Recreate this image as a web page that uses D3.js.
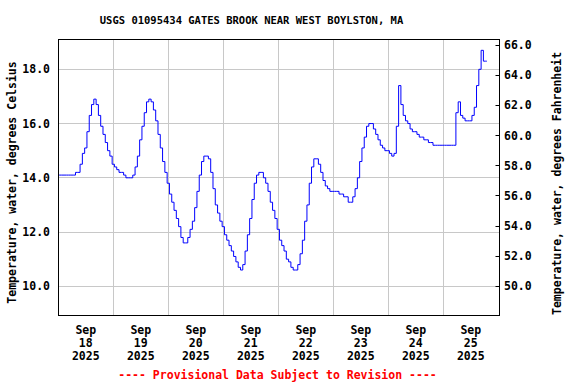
<!DOCTYPE html>
<html>
<head>
<meta charset="utf-8">
<script src="https://cdn.jsdelivr.net/npm/d3@7"></script>
<style>
html,body{margin:0;padding:0;background:#fff;}
svg text{font-family:"DejaVu Sans Mono","Liberation Mono",monospace;font-weight:bold;}
</style>
</head>
<body>
<svg id="chart" width="576" height="384"></svg>
<script>
// ---- data ----
const title = "USGS 01095434 GATES BROOK NEAR WEST BOYLSTON, MA";
const leftLabel = "Temperature, water, degrees Celsius";
const rightLabel = "Temperature, water, degrees Fahrenheit";
const footer = "---- Provisional Data Subject to Revision ----";
const startDate = "2025-09-18T00:00:00";
const endDate = "2025-09-26T00:00:00";
const dayLabels = ["18","19","20","21","22","23","24","25"];
const celsiusTicks = [10,12,14,16,18];
const fahrenheitTicks = [50,52,54,56,58,60,62,64,66];
// hourly water temperature (deg C) starting 2025-09-18 00:00
const tempC = [
 14.1,14.1,14.1,14.1,14.1,14.1,14.1,14.1,14.2,14.2,14.5,14.9,15.1,15.7,16.3,16.7,16.9,16.7,16.3,15.9,15.6,15.3,15.0,14.8,
 14.5,14.4,14.3,14.2,14.2,14.1,14.0,14.0,14.0,14.1,14.4,14.8,15.4,15.9,16.4,16.8,16.9,16.8,16.5,16.1,15.6,15.1,14.6,14.2,
 13.8,13.4,13.1,12.8,12.5,12.2,11.8,11.6,11.6,11.8,12.1,12.4,12.9,13.5,14.1,14.6,14.8,14.8,14.7,14.2,13.6,13.0,12.7,12.4,
 12.2,11.9,11.7,11.5,11.3,11.1,10.9,10.7,10.6,10.8,11.3,11.9,12.5,13.2,13.8,14.1,14.2,14.2,14.0,13.8,13.5,13.1,12.8,12.5,
 12.1,11.7,11.5,11.3,11.0,10.9,10.7,10.6,10.6,10.8,11.2,11.7,12.4,13.0,13.8,14.4,14.7,14.7,14.5,14.2,13.9,13.7,13.6,13.5,
 13.5,13.5,13.5,13.4,13.4,13.3,13.3,13.1,13.1,13.3,13.6,14.0,14.6,15.1,15.5,15.9,16.0,16.0,15.8,15.6,15.4,15.2,15.1,15.0,
 15.0,14.9,14.8,14.9,15.9,17.4,16.7,16.3,16.1,16.0,15.8,15.7,15.7,15.6,15.5,15.5,15.4,15.4,15.3,15.3,15.2,15.2,15.2,15.2,
 15.2,15.2,15.2,15.2,15.2,15.2,16.4,16.8,16.3,16.2,16.1,16.1,16.1,16.3,16.6,17.4,18.0,18.7,18.3,18.3
];

// ---- layout ----
const svg = d3.select("#chart");
const L = 58.5, R = 499.5, T = 39.5, B = 315.5;
const t0 = new Date(startDate), t1 = new Date(endDate);
const x = d3.scaleTime().domain([t0, t1]).range([58.3, 498.3]);
const y = d3.scaleLinear().domain([10, 18]).range([286.3, 69.3]);
const crisp = v => Math.floor(v) + 0.5;
const data = tempC.map((v, i) => ({t: d3.timeHour.offset(t0, i), v}));
const days = d3.timeDay.range(t0, t1);

// gridlines
const grid = svg.append("g").attr("stroke", "#c8c8c8").attr("stroke-width", 1);
days.slice(1).forEach(d => {
  const xx = crisp(x(d));
  grid.append("line").attr("x1", xx).attr("x2", xx).attr("y1", T).attr("y2", B);
});
celsiusTicks.forEach(c => {
  const yy = crisp(y(c));
  grid.append("line").attr("x1", L).attr("x2", R).attr("y1", yy).attr("y2", yy);
});

// data line
svg.append("path").datum(data)
  .attr("fill", "none").attr("stroke", "#0000ff").attr("stroke-width", 1)
  .attr("d", d3.line().curve(d3.curveStep).x(d => x(d.t)).y(d => y(d.v)));

// frame
svg.append("rect").attr("x", L).attr("y", T).attr("width", R - L).attr("height", B - T)
  .attr("fill", "none").attr("stroke", "#000").attr("stroke-width", 1);

// left axis labels
const fs = "11.5px";
celsiusTicks.forEach(c => {
  svg.append("text").attr("x", 50).attr("y", y(c) + 4).attr("text-anchor", "end")
    .attr("font-size", fs).text(c.toFixed(1));
});

// right axis (Fahrenheit) ticks and labels
const fToY = f => y((f - 32) * 5 / 9);
fahrenheitTicks.forEach(f => {
  const yy = crisp(fToY(f));
  svg.append("line").attr("x1", R - 4).attr("x2", R).attr("y1", yy).attr("y2", yy)
    .attr("stroke", "#000").attr("stroke-width", 1);
  svg.append("text").attr("x", 504).attr("y", fToY(f) + 4).attr("text-anchor", "start")
    .attr("font-size", fs).text(f.toFixed(1));
});

// x labels
days.forEach((d, i) => {
  const xc = x(d3.timeHour.offset(d, 12));
  const g = svg.append("text").attr("text-anchor", "middle").attr("font-size", fs);
  g.append("tspan").attr("x", xc).attr("y", 334).text("Sep");
  g.append("tspan").attr("x", xc).attr("y", 347).text(dayLabels[i]);
  g.append("tspan").attr("x", xc).attr("y", 360).text("2025");
});

// title
svg.append("text").attr("x", 251.5).attr("y", 24).attr("text-anchor", "middle")
  .attr("font-size", "10.5px").text(title);

// axis titles
svg.append("text").attr("transform", "translate(16,182.5) rotate(-90)")
  .attr("text-anchor", "middle").attr("font-size", fs).text(leftLabel);
svg.append("text").attr("transform", "translate(561,183.5) rotate(-90)")
  .attr("text-anchor", "middle").attr("font-size", fs).text(rightLabel);

// footer
svg.append("text").attr("x", 277.5).attr("y", 379).attr("text-anchor", "middle")
  .attr("font-size", fs).attr("fill", "#ff0000").text(footer);
</script>
</body>
</html>
